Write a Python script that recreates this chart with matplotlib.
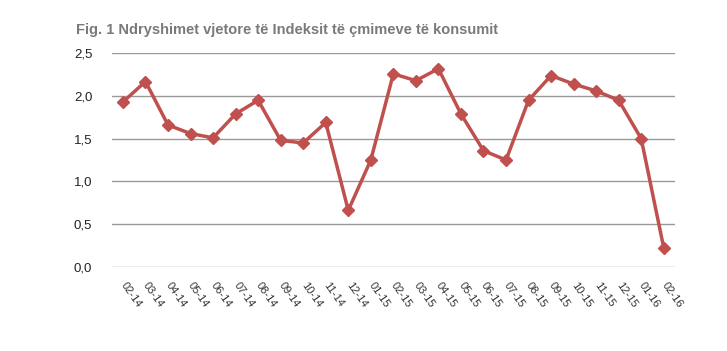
import matplotlib
matplotlib.use("Agg")
import matplotlib.pyplot as plt

months = ["02-14","03-14","04-14","05-14","06-14","07-14","08-14","09-14","10-14","11-14","12-14",
          "01-15","02-15","03-15","04-15","05-15","06-15","07-15","08-15","09-15","10-15","11-15","12-15",
          "01-16","02-16"]
values = [1.93,2.17,1.66,1.56,1.51,1.79,1.95,1.48,1.45,1.69,0.66,
          1.25,2.26,2.18,2.32,1.79,1.36,1.25,1.95,2.24,2.14,2.06,1.95,
          1.50,0.22]
yticks = [0.0,0.5,1.0,1.5,2.0,2.5]
title = "Fig. 1 Ndryshimet vjetore të Indeksit të çmimeve të konsumit"

plt.rcParams['font.family'] = ['Liberation Sans', 'DejaVu Sans']

fig = plt.figure(figsize=(7.27,3.51), dpi=100)
ax = fig.add_axes([0.1536, 0.2402, 0.7749, 0.6078])
x = list(range(len(months)))
ax.plot(x, values, color="#C0504D", lw=2.5, marker="D", ms=6, zorder=3)
ax.set_xlim(-0.5, len(months)-0.5)
ax.set_ylim(0, 2.5)
ax.set_yticks(yticks)
ax.set_yticklabels([f"{v:.1f}".replace(".", ",") for v in yticks], fontsize=9.5, color="#222222")
ax.set_xticks(x)
ax.set_xticklabels(months, rotation=-55, ha="left", va="center", rotation_mode="anchor", fontsize=8, color="#333333")
ax.tick_params(axis="both", length=0)
ax.tick_params(axis="x", pad=12)
ax.tick_params(axis="y", pad=14)
for s in ax.spines.values():
    s.set_visible(False)
ax.grid(axis="y", color="#999999", lw=1)
ax.set_axisbelow(True)
fig.text(0.105, 0.915, title, fontsize=10.5, fontweight="bold", color="#7a7a7a", ha="left", va="center")
fig.savefig("out.png", dpi=100)
